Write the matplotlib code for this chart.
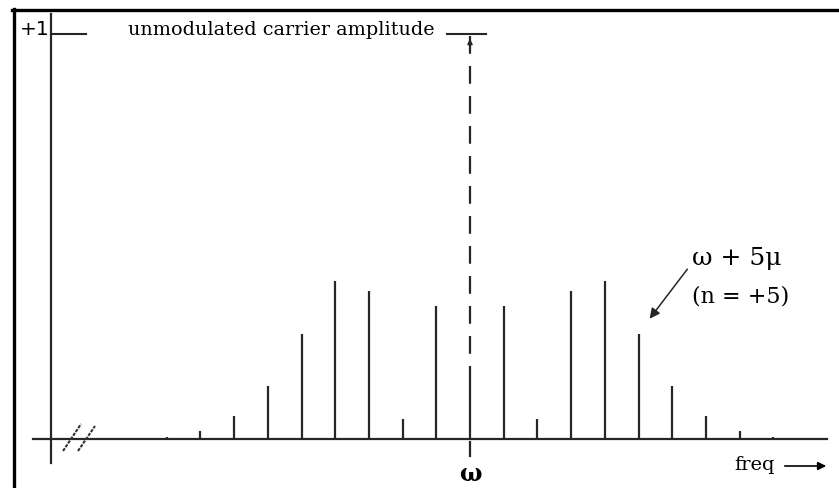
import matplotlib
matplotlib.use("Agg")
import matplotlib.pyplot as plt
from matplotlib.lines import Line2D

# sideband order n and relative line amplitude
orders = [-9, -8, -7, -6, -5, -4, -3, -2, -1, 0, 1, 2, 3, 4, 5, 6, 7, 8, 9]
amplitudes = [0.005, 0.020, 0.057, 0.132, 0.261, 0.392, 0.367, 0.050, 0.330, 0.179,
              0.330, 0.050, 0.367, 0.392, 0.261, 0.132, 0.057, 0.020, 0.005]
carrier_amplitude = 1.0
labelled_order = 5

W, H = 839, 489
fig = plt.figure(figsize=(W / 100, H / 100), dpi=100)
ax = fig.add_axes([0, 0, 1, 1])
ax.set_axis_off()

# layout: omega sits at x=470px, one sideband step = 33.7px, baseline y=440px, +1 is 403px up
x0, dx, y0, dy = 470, 33.7, 440, 403
ax.set_xlim(-x0 / dx, (W - x0) / dx)
ax.set_ylim(-(H - y0) / dy, y0 / dy)


def px(x, y):
    # pixel position in the picture -> data coords
    return (x - x0) / dx, (y0 - y) / dy


ink = "#262626"
serif = ["DejaVu Serif"]

# spectral lines
ax.vlines(orders, 0, amplitudes, colors=ink, lw=1.6)

# unmodulated carrier (dashed, up to +1)
j0 = amplitudes[orders.index(0)]
ax.plot([0, 0], [carrier_amplitude, j0], color=ink, lw=1.6, ls=(0, (8, 5.5)))
ax.annotate("", xy=(0, carrier_amplitude), xytext=(0, carrier_amplitude - 0.03),
            arrowprops=dict(arrowstyle="-|>", color=ink, lw=1.2, mutation_scale=7))
ax.plot([px(447, 0)[0], px(486, 0)[0]], [carrier_amplitude + 0.005] * 2, color=ink, lw=1.5)

# axes
xa0, _ = px(33, 0)
xa1, _ = px(827, 0)
ax.plot([xa0, xa1], [0, 0], color=ink, lw=1.6)
xv, yb = px(51, 464)
_, yt = px(51, 15)
ax.plot([xv, xv], [yb, yt], color=ink, lw=1.6)
ax.plot([xv, px(86, 0)[0]], [carrier_amplitude + 0.005] * 2, color=ink, lw=1.5)
ax.text(xv - 0.05, carrier_amplitude + 0.018, "+1", ha="right", va="center",
        fontsize=14.5, family="DejaVu Sans", color="black")

# break marks on the frequency axis
for (xa, ya, xb, yb2) in [(63, 452, 81, 425), (78, 452, 95, 427)]:
    p, q = px(xa, ya), px(xb, yb2)
    ax.plot([p[0], q[0]], [p[1], q[1]], color="#333333", lw=1.5, ls=(0, (1.6, 0.6)))

# omega tick and label
ax.plot([0, 0], [px(0, 443)[1], px(0, 457)[1]], color=ink, lw=1.6)
ax.text(0, px(0, 474)[1], "ω", ha="center", va="center", fontsize=17,
        family=serif, fontweight="bold", color="black")

ax.text(px(128, 0)[0], px(0, 30)[1], "unmodulated carrier amplitude", ha="left",
        va="center", fontsize=13.8, family=serif, color="black")

# freq label with arrow
ax.text(px(734, 0)[0], px(0, 465)[1], "freq", ha="left", va="center",
        fontsize=14, family=serif, color="black")
ax.annotate("", xy=px(829, 467), xytext=px(782, 467),
            arrowprops=dict(arrowstyle="-|>", color="black", lw=1.2, mutation_scale=12))

# label for the n=+5 sideband
n5_amp = amplitudes[orders.index(labelled_order)]
ax.text(px(692, 0)[0], px(0, 258)[1], "ω + 5μ", ha="left", va="center",
        fontsize=18, family=serif, color="black")
ax.text(px(692, 0)[0], px(0, 296)[1], "(n = +5)", ha="left", va="center",
        fontsize=16, family=serif, color="black")
ax.annotate("", xy=(labelled_order + 0.28, n5_amp + 0.032), xytext=px(689, 268),
            arrowprops=dict(arrowstyle="-|>", color=ink, lw=1.1, mutation_scale=15))

# outer frame (left and top)
fig.add_artist(Line2D([13.5 / W, 13.5 / W], [0, 1 - 10 / H], color="black", lw=2.4))
fig.add_artist(Line2D([12 / W, 1], [1 - 11 / H, 1 - 11 / H], color="black", lw=2.4))

fig.savefig("out.png", dpi=100, facecolor="white")
